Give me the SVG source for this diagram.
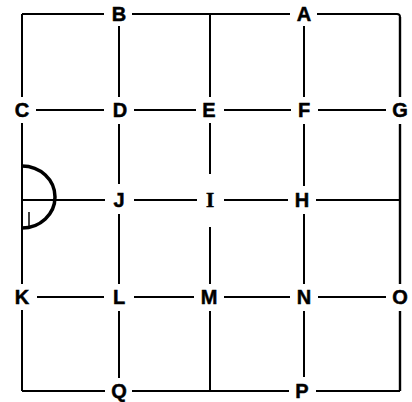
<svg xmlns="http://www.w3.org/2000/svg" width="412" height="402" viewBox="0 0 412 402">
<style>
.l{stroke:#000;stroke-width:2;fill:none;stroke-linecap:butt}
.t{font-family:"Liberation Sans",Arial,sans-serif;font-weight:bold;font-size:20px;text-anchor:middle;fill:#000;stroke:#000;stroke-width:0.5}
.s{font-family:"Liberation Serif","Times New Roman",serif;font-weight:bold;font-size:21px;text-anchor:middle;fill:#000;stroke:#000;stroke-width:0.5}
</style>
<rect width="412" height="402" fill="#fff"/>
<g id="connectors" class="l">
<path d="M22,14 H104 M132,14 H290 M317,14 H397 Q400,14 400,17"/>
<path d="M36,110 H104 M134,110 H196 M224,110 H291 M318,110 H386"/>
<path d="M22,200 H105 M134,200 H197 M224,200 H288 M316,200 H400"/>
<path d="M37,297 H104 M134,297 H194 M224,297 H290 M318,297 H386"/>
<path d="M22,391 H105 M132,391 H289 M316,391 H400"/>
<path d="M22,14 V97 M22,123 V284 M22,310 V391"/>
<path d="M119,26 V97 M119,124 V184 M119,214 V284 M119,311 V378"/>
<path d="M210,14 V97 M210,123 V174 M210,227 V284 M210,311 V391"/>
<path d="M304,26 V97 M304,124 V186 M304,214 V284 M304,311 V377"/>
<path d="M400,17 V97 M400,124 V284 M400,311 V391" stroke-width="2.4"/>
</g>
<g id="arc">
<path d="M22,166 A33 31 0 0 1 22,228" fill="none" stroke="#000" stroke-width="3.5"/>
<line x1="29" y1="212" x2="29" y2="226" stroke="#000" stroke-width="1.5"/>
</g>
<g id="nB"><text class="t" x="119" y="21">B</text></g>
<g id="nA"><text class="t" x="304" y="21">A</text></g>
<g id="nC"><text class="t" x="22" y="117">C</text></g>
<g id="nD"><text class="t" x="120" y="117">D</text></g>
<g id="nE"><text class="t" x="209" y="117">E</text></g>
<g id="nF"><text class="t" x="304" y="117">F</text></g>
<g id="nG"><text class="t" x="400" y="117">G</text></g>
<g id="nJ"><text class="t" x="119" y="207">J</text></g>
<g id="nI"><text class="s" x="210" y="207">I</text></g>
<g id="nH"><text class="t" x="302" y="207">H</text></g>
<g id="nK"><text class="t" x="22" y="304">K</text></g>
<g id="nL"><text class="t" x="119" y="304">L</text></g>
<g id="nM"><text class="t" x="209" y="304">M</text></g>
<g id="nN"><text class="t" x="304" y="304">N</text></g>
<g id="nO"><text class="t" x="400" y="304">O</text></g>
<g id="nQ"><text class="t" x="119" y="398">Q</text></g>
<g id="nP"><text class="t" x="302" y="398">P</text></g>
</svg>
